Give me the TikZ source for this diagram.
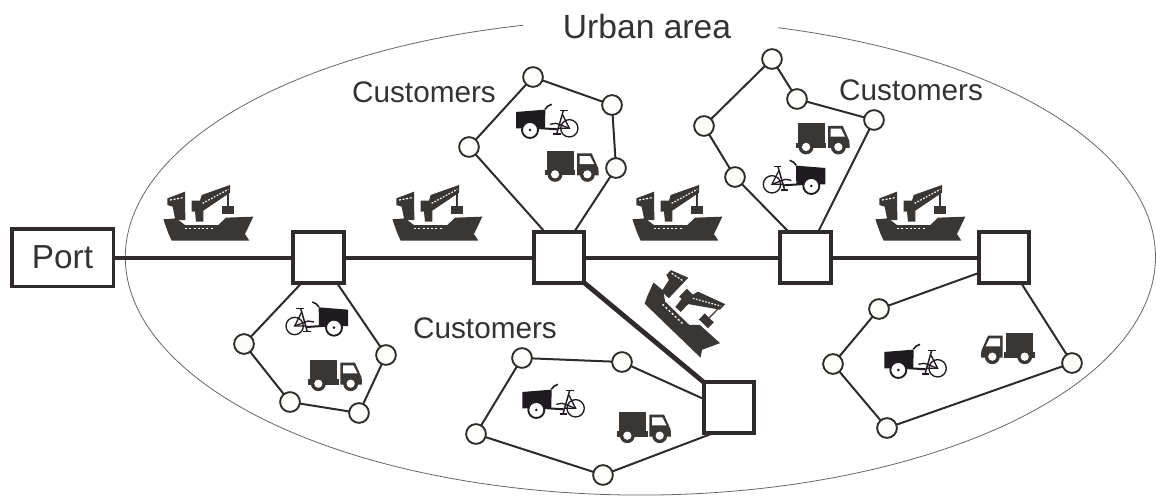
\documentclass[tikz,border=0pt]{standalone}
\usepackage{fontspec}
\setmainfont{Liberation Sans}
\definecolor{ink}{HTML}{2E2B2A}
\definecolor{iconink}{HTML}{3A3634}
\definecolor{bikeink}{HTML}{1F1B20}
\definecolor{txt}{HTML}{333333}
\definecolor{disc}{HTML}{FDFDF9}
\tikzset{
  hubbox/.style={draw=ink,line width=3.2pt,fill=white,minimum size=38pt,inner sep=0pt,outer sep=0pt},
  portbox/.style={draw=ink,line width=2.5pt,fill=white,minimum width=76pt,minimum height=43pt,inner sep=0pt,outer sep=0pt,font=\fontsize{25}{28}\selectfont,text=txt},
  stop/.style={draw=ink,line width=1.4pt,fill=disc,circle,minimum size=14.8pt,inner sep=0pt,outer sep=0pt},
  route/.style={draw=ink,line width=1.5pt},
  trunk/.style={draw=ink,line width=3pt},
  trunkheavy/.style={draw=ink,line width=3.6pt},
  label/.style={text=txt,inner sep=0pt,font=\fontsize{22.3}{26}\selectfont},
  titlelabel/.style={text=txt,inner sep=0pt,font=\fontsize{25.2}{28}\selectfont},
  boundary/.style={draw=black!60,line width=0.6pt},
  ship/.pic={
    \begin{scope}[x=.25pt,y=-.25pt,shift={(-174,-129)}]
      \fill[iconink] (40,148)--(78,145)--(105,165)--(205,165)--(228,143)--(310,140)--(285,192)--(298,212)--(65,212)--(55,190)--cycle;
      \fill[iconink] (52,85)--(105,65)--(106,150)--(76,150)--(68,110)--(52,105)--cycle;
      \fill[iconink] (125,92)--(125,125)--(135,125)--(138,155)--(160,155)--(160,122)--(240,68)--(240,45)--(155,75)--(150,92)--cycle;
      \fill[iconink] (215,108) rectangle (253,133);
      \draw[iconink,line width=.9pt] (234,62)--(234,108);
      \draw[white,line width=.9pt,dash pattern=on 1.5pt off 1.2pt] (60,90)--(100,83);
      \draw[white,line width=.9pt,dash pattern=on 1.2pt off 1.2pt] (158,100)--(235,58);
      \draw[white,line width=1pt,dash pattern=on 1.5pt off 1.7pt] (105,176)--(192,176);
    \end{scope}
  },
  truck/.pic={
    \begin{scope}[x=.25pt,y=-.25pt,shift={(-140,-182)}]
      \fill[iconink] (140,182) rectangle (221,242);
      \fill[iconink] (134,240) rectangle (226,256);
      \fill[iconink] (231,190)--(275,190)--(295,235)--(296,256)--(231,256)--cycle;
      \fill[white] (239,198)--(270,198)--(282,222)--(239,222)--cycle;
      \fill[iconink] (165,253) circle[radius=5.6pt];
      \fill[white] (165,253) circle[radius=3.1pt];
      \fill[iconink] (262,253) circle[radius=5.6pt];
      \fill[white] (262,253) circle[radius=3.1pt];
    \end{scope}
  },
  bike/.pic={
    \begin{scope}[x=.25pt,y=-.25pt,shift={(-48,-115)}]
      \fill[bikeink] (48,66)--(136,59)--(135,115)--(48,115)--cycle;
      \draw[bikeink,line width=1.2pt] (135,58) .. controls (140,50) and (146,46) .. (155,43);
      \draw[bikeink,line width=1.5pt] (110,114)--(172,118);
      \draw[bikeink,line width=1pt] (208,115) circle[radius=6.5pt];
      \draw[bikeink,line width=1.1pt] (190,62)--(170,132);
      \draw[bikeink,line width=1.1pt] (180,62)--(203,62);
      \draw[bikeink,line width=1pt] (188,75)--(208,115)--(172,115);
      \draw[bikeink,line width=1pt] (150,103)--(168,100)--(208,115);
      \draw[bikeink,line width=1pt] (160,132)--(182,132);
      \draw[bikeink,fill=white,line width=1.4pt] (90,120) circle[radius=6pt];
      \fill[bikeink] (90,120) circle[radius=1.1pt];
    \end{scope}
  },
}
\begin{document}
\begin{tikzpicture}[x=.75pt,y=-.75pt]
\useasboundingbox (0,0) rectangle (1156,496);
\fill[white] (0,0) rectangle (1156,496);
% urban boundary
\draw[boundary] (778,27.7) arc[start angle=74.5,end angle=-256.8,x radius=386.25pt,y radius=178.5pt];
% nodes
\node[portbox] (port) at (62.5,257.5) {Port};
\node[hubbox] (h1) at (318.3,257.5) {};
\node[hubbox] (h2) at (559,257.5) {};
\node[hubbox] (h3) at (805.5,257.5) {};
\node[hubbox] (h4) at (1004,257.5) {};
\node[hubbox] (h5) at (729,407.5) {};
\node[stop] (a1) at (244,344) {};
\node[stop] (a2) at (290,402) {};
\node[stop] (a3) at (359,413) {};
\node[stop] (a4) at (386,355) {};
\node[stop] (b1) at (469,147) {};
\node[stop] (b2) at (533,77) {};
\node[stop] (b3) at (612,105) {};
\node[stop] (b4) at (616,168) {};
\node[stop] (c1) at (735,177) {};
\node[stop] (c2) at (704,126) {};
\node[stop] (c3) at (772,59) {};
\node[stop] (c4) at (797,99) {};
\node[stop] (c5) at (874,120) {};
\node[stop] (d1) at (879,309) {};
\node[stop] (d2) at (833,364) {};
\node[stop] (d3) at (887,428) {};
\node[stop] (d4) at (1072,363) {};
\node[stop] (e1) at (622,362) {};
\node[stop] (e2) at (522,358) {};
\node[stop] (e3) at (476,434) {};
\node[stop] (e4) at (603,475) {};
% connectors
\draw[trunk] (port) -- (h1);
\draw[trunk] (h1) -- (h2);
\draw[trunk] (h2) -- (h3);
\draw[trunk] (h3) -- (h4);
\draw[trunkheavy] (h2.south east) -- (h5.north west);
\draw[route] ([xshift=-12.4pt]h1.south) -- (a1) -- (a2) -- (a3) -- (a4) -- ([xshift=13.9pt]h1.south);
\draw[route] ([xshift=-10.5pt]h2.north) -- (b1) -- (b2) -- (b3) -- (b4) -- ([xshift=11.25pt]h2.north);
\draw[route] ([xshift=-12.4pt]h3.north) -- (c1) -- (c2) -- (c3) -- (c4) -- (c5) -- ([xshift=9.4pt]h3.north);
\draw[route] ([yshift=-11.6pt]h4.west) -- (d1) -- (d2) -- (d3) -- (d4) -- ([xshift=12.75pt]h4.south);
\draw[route] ([yshift=6.4pt]h5.west) -- (e1) -- (e2) -- (e3) -- (e4) -- ([xshift=-11.25pt]h5.south);
% labels
\node[titlelabel] (urban) at (647,26) {Urban area};
\node[label] (cust1) at (424,92) {Customers};
\node[label] (cust2) at (911,90) {Customers};
\node[label] (cust3) at (485,328) {Customers};
% ships
\pic at (208,213) {ship};
\pic at (437,213) {ship};
\pic at (677,213) {ship};
\pic at (920,213) {ship};
\pic[rotate=-44] at (690,309) {ship};
% trucks
\pic at (310,360) {truck};
\pic at (546.7,150.7) {truck};
\pic at (797.7,123.3) {truck};
\pic at (619,412) {truck};
\pic[xscale=-1] at (1033,333) {truck};
% bikes
\pic at (516,128.3) {bike};
\pic at (522.3,408.3) {bike};
\pic at (884.3,368.3) {bike};
\pic[xscale=-1] at (348,326) {bike};
\pic[xscale=-1] at (825.3,184.3) {bike};
\end{tikzpicture}
\end{document}
